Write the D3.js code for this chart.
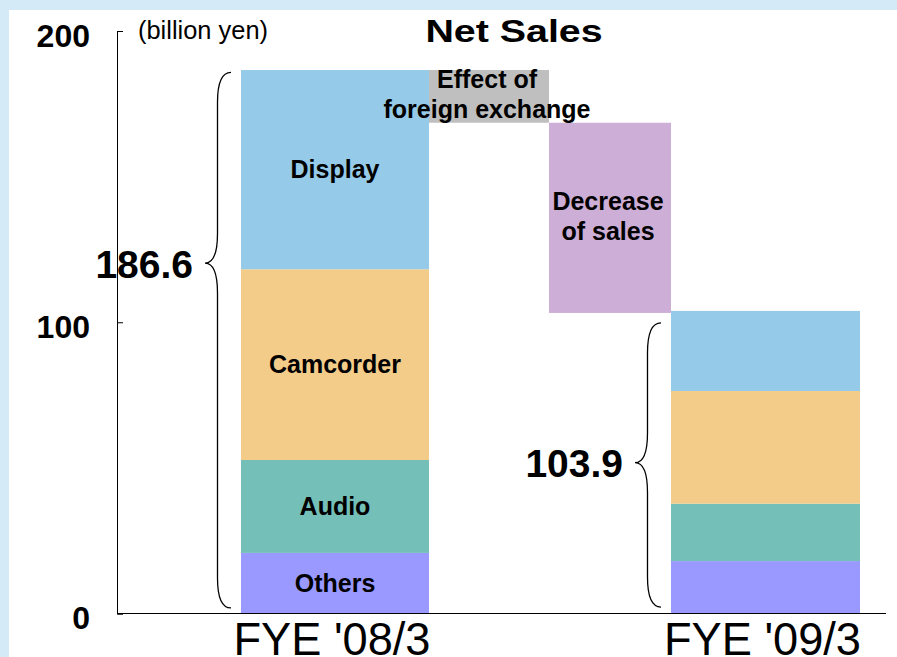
<!DOCTYPE html>
<html>
<head>
<meta charset="utf-8">
<script src="https://cdn.jsdelivr.net/npm/d3@7"></script>
<style>
  body { margin: 0; background: #d4eaf6; }
  svg text { font-family: "Liberation Sans", Arial, sans-serif; fill: #000; }
</style>
</head>
<body>
<div id="chart"></div>
<script>
// data (billion yen)
var years = ["FYE '08/3", "FYE '09/3"];
var segments = ["Others", "Audio", "Camcorder", "Display"]; // bottom to top
var fye08 = [20.8, 31.9, 65.5, 68.4];
var fye09 = [18.0, 19.7, 38.7, 27.5];
var totals = ["186.6", "103.9"];
var bridgeLabels = [["Effect of", "foreign exchange"], ["Decrease", "of sales"]];
var bridgeRanges = [[168.5, 186.6], [103.2, 168.5]];
var braceLow = [1.9, 2.2];
var braceHigh = [185.8, 99.8];
var braceTip = [120.3, 51.8];
var yTicks = [0, 100, 200];

createGraph();

function createGraph() {
    var width = 897, height = 657;
    var colors = { Others: "#9999ff", Audio: "#74bfb7", Camcorder: "#f3cc8a", Display: "#95cbe9" };
    var bridgeColors = ["#bfbfbf", "#cdaed6"];

    var svg = d3.select("#chart").append("svg")
        .attr("width", width)
        .attr("height", height);

    // blue frame + white panel
    svg.append("rect").attr("width", width).attr("height", height).attr("fill", "#d4eaf6");
    svg.append("rect").attr("x", 9).attr("y", 10).attr("width", width - 9).attr("height", height - 10).attr("fill", "#fff");

    var y = d3.scaleLinear().domain([0, 200]).range([613.5, 31]);

    // columns: bar, bridge, bridge, bar
    var columns = ["bar0", "bridge0", "bridge1", "bar1"];
    var xLeft = d3.scaleOrdinal(columns, [241, 429, 549, 671]);
    var xRight = d3.scaleOrdinal(columns, [429, 549, 671, 860]);

    // stacked bars
    var rows = [fye08, fye09].map(function (vals, i) {
        var r = { year: years[i], col: "bar" + i };
        segments.forEach(function (s, j) { r[s] = vals[j]; });
        return r;
    });
    var series = d3.stack().keys(segments)(rows);

    var layer = svg.selectAll(".layer")
        .data(series)
        .enter().append("g")
        .attr("class", "layer")
        .attr("fill", function (d) { return colors[d.key]; });

    layer.selectAll("rect")
        .data(function (d) { return d; })
        .enter().append("rect")
        .attr("x", function (d) { return xLeft(d.data.col); })
        .attr("width", function (d) { return xRight(d.data.col) - xLeft(d.data.col); })
        .attr("y", function (d) { return y(d[1]); })
        .attr("height", function (d) { return y(d[0]) - y(d[1]); });

    // segment labels on the first bar only
    svg.selectAll(".seglabel")
        .data(series)
        .enter().append("text")
        .attr("class", "seglabel")
        .attr("x", (xLeft("bar0") + xRight("bar0")) / 2)
        .attr("y", function (d) { return (y(d[0][0]) + y(d[0][1])) / 2 + 8.5; })
        .attr("text-anchor", "middle")
        .style("font-size", "25px")
        .style("font-weight", "bold")
        .text(function (d) { return d.key; });

    // bridge boxes
    bridgeRanges.forEach(function (r, i) {
        var col = "bridge" + i;
        svg.append("rect")
            .attr("x", xLeft(col))
            .attr("width", xRight(col) - xLeft(col))
            .attr("y", y(r[1]))
            .attr("height", y(r[0]) - y(r[1]))
            .attr("fill", bridgeColors[i]);
    });
    bridgeRanges.forEach(function (r, i) {
        var col = "bridge" + i;
        var mid = (y(r[0]) + y(r[1])) / 2;
        var t = svg.append("text")
            .attr("text-anchor", "middle")
            .style("font-size", "25px")
            .style("font-weight", "bold");
        bridgeLabels[i].forEach(function (line, k) {
            t.append("tspan")
                .attr("x", (xLeft(col) + xRight(col)) / 2 - 2)
                .attr("y", mid - 8 + k * 30)
                .text(line);
        });
    });

    // y axis
    var axis = svg.append("g")
        .attr("transform", "translate(117,0)")
        .call(d3.axisLeft(y).tickValues(yTicks).tickSizeInner(-6).tickSizeOuter(-6).tickPadding(27));
    axis.select(".domain").attr("stroke", "#000");
    axis.selectAll(".tick line").attr("stroke", "#000");
    axis.selectAll(".tick text")
        .attr("dy", "0.47em")
        .style("font-size", "32px")
        .style("font-weight", "bold")
        .style("font-family", "'Liberation Sans', Arial, sans-serif")
        .attr("fill", "#000");

    // baseline
    svg.append("line")
        .attr("x1", 117).attr("x2", 886)
        .attr("y1", y(0)).attr("y2", y(0))
        .attr("stroke", "#000");

    // braces with totals
    function bracePath(ex, vx, tx, top, tip, bot) {
        return "M" + ex + "," + top +
            "Q" + vx + "," + top + " " + vx + "," + (top + 30) +
            "L" + vx + "," + (tip - 30) +
            "Q" + vx + "," + tip + " " + tx + "," + tip +
            "Q" + vx + "," + tip + " " + vx + "," + (tip + 30) +
            "L" + vx + "," + (bot - 30) +
            "Q" + vx + "," + bot + " " + ex + "," + bot;
    }
    years.forEach(function (yr, i) {
        var left = xLeft("bar" + i);
        var tipY = y(braceTip[i]);
        svg.append("path")
            .attr("d", bracePath(left - 10, left - 23.5, left - 36, y(braceHigh[i]), tipY, y(braceLow[i])))
            .attr("fill", "none")
            .attr("stroke", "#000")
            .attr("stroke-width", 1.3);
        svg.append("text")
            .attr("x", left - 48)
            .attr("y", tipY + 14.5)
            .attr("text-anchor", "end")
            .style("font-size", "39px")
            .style("font-weight", "bold")
            .text(totals[i]);
        svg.append("text")
            .attr("x", (left + xRight("bar" + i)) / 2 - 3)
            .attr("y", 655)
            .attr("text-anchor", "middle")
            .attr("textLength", 197)
            .attr("lengthAdjust", "spacingAndGlyphs")
            .style("font-size", "46px")
            .text(yr);
    });

    // title and unit
    svg.append("text")
        .attr("transform", "translate(514,42) scale(1.27,1)")
        .attr("text-anchor", "middle")
        .style("font-size", "31px")
        .style("font-weight", "bold")
        .text("Net Sales");
    svg.append("text")
        .attr("x", 138).attr("y", 38.5)
        .attr("textLength", 130)
        .attr("lengthAdjust", "spacingAndGlyphs")
        .style("font-size", "25px")
        .text("(billion yen)");
}
</script>
</body>
</html>
